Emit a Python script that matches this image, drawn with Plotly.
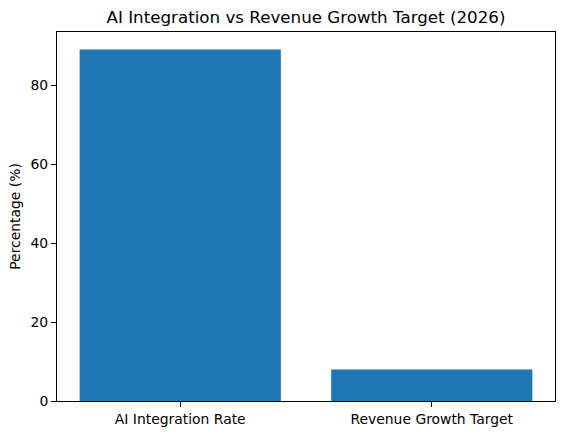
import plotly.graph_objects as go

categories = ["AI Integration Rate", "Revenue Growth Target"]
values = [89, 8]
title = "AI Integration vs Revenue Growth Target (2026)"

fig = go.Figure(go.Bar(x=categories, y=values, width=0.8,
                       marker=dict(color="#1f77b4", line=dict(width=0))))

axis_style = dict(showline=True, linecolor="black", linewidth=1, mirror=True,
                  ticks="outside", ticklen=5, tickwidth=1, tickcolor="black",
                  showgrid=False, zeroline=False,
                  tickfont=dict(family="DejaVu Sans", size=13.9, color="black"))

fig.update_xaxes(range=[-0.49, 1.49], **axis_style)
fig.update_yaxes(range=[0, max(values) * 1.05], tickvals=[0, 20, 40, 60, 80],
                 title=dict(text="Percentage (%)", font=dict(family="DejaVu Sans", size=13.9, color="black"),
                            standoff=6),
                 **axis_style)

fig.update_layout(width=562, height=435,
                  margin=dict(l=57, r=7, t=32, b=34),
                  plot_bgcolor="white", paper_bgcolor="white",
                  showlegend=False,
                  title=dict(text=title, x=(57 + 555) / 2 / 562, xanchor="center",
                             y=1 - 17 / 435, yanchor="middle",
                             font=dict(family="DejaVu Sans", size=16.7, color="black")))

# the page body has a default 8px margin, drop it so the figure sits at the corner
fig.write_html("out.html", config={"displayModeBar": False},
               post_script="document.body.style.margin='0';")
